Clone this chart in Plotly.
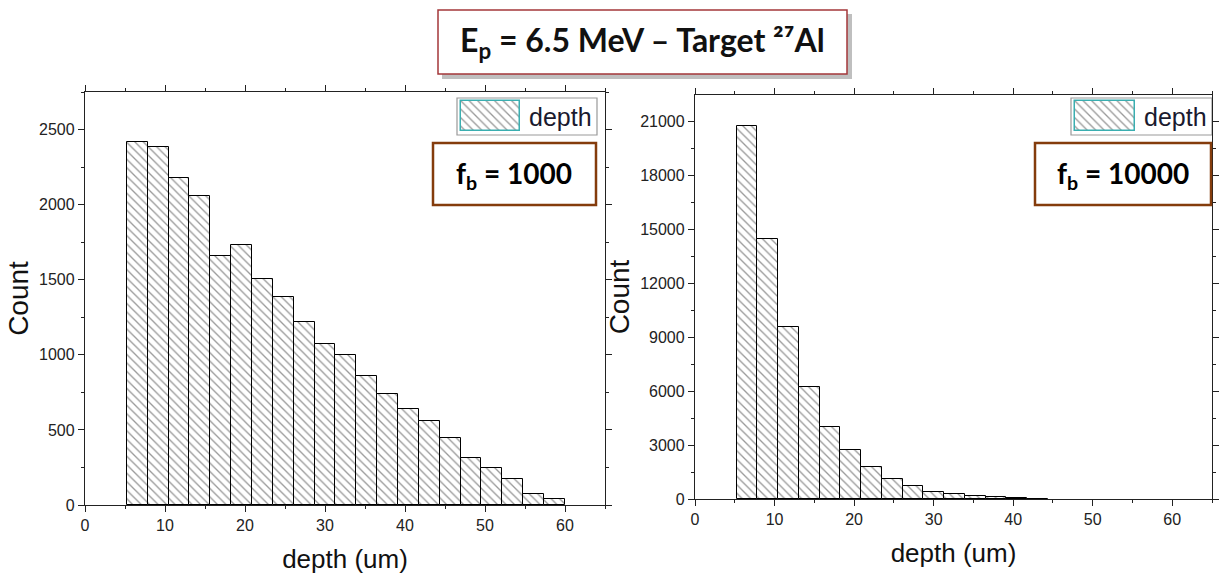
import plotly.graph_objects as go

W, H = 1219, 574

# ---- data ----
bin_start = 5.24
bin_width = 2.607
counts_fb1000 = [2420, 2387, 2180, 2060, 1655, 1733, 1505, 1385, 1220, 1073,
                 1000, 860, 740, 640, 560, 445, 312, 245, 172, 72, 38]
counts_fb10000 = [20700, 14450, 9560, 6230, 4000, 2730, 1780, 1110, 720, 390,
                  280, 165, 85, 40, 20]
x_ticks = [0, 10, 20, 30, 40, 50, 60]
y_ticks_left = [0, 500, 1000, 1500, 2000, 2500]
y_ticks_right = [0, 3000, 6000, 9000, 12000, 15000, 18000, 21000]
title_text = "E<sub>p</sub> = 6.5 MeV – Target ²⁷Al"
fb_labels = ["f<sub>b</sub> = 1000", "f<sub>b</sub> = 10000"]
legend_name = "depth"


def px_x(p):
    return p / W


def px_y(p):
    return 1 - p / H


def centers(n):
    return [bin_start + bin_width * (i + 0.5) for i in range(n)]


pattern = dict(shape="\\", size=6, solidity=0.22, fgcolor="#333", bgcolor="white")

fig = go.Figure()
fig.add_trace(go.Bar(x=centers(len(counts_fb1000)), y=counts_fb1000, width=bin_width,
                     marker=dict(color="white", pattern=pattern, line=dict(color="black", width=1)),
                     xaxis="x", yaxis="y", showlegend=False, name=legend_name))
fig.add_trace(go.Bar(x=centers(len(counts_fb10000)), y=counts_fb10000, width=bin_width,
                     marker=dict(color="white", pattern=pattern, line=dict(color="black", width=1)),
                     xaxis="x2", yaxis="y2", showlegend=False, name=legend_name))
# legend swatches
for ax in ("3", "4"):
    fig.add_trace(go.Bar(x=[0], y=[1], width=1, base=0,
                         marker=dict(color="white", pattern=pattern, line=dict(color="#3aaeb0", width=1.5)),
                         xaxis="x" + ax, yaxis="y" + ax, showlegend=False, hoverinfo="skip"))

tickfont = dict(family="Liberation Sans, Arial", size=16, color="#222")
xtitlefont = dict(family="Liberation Sans, Arial", size=26, color="#111")
ytitlefont = dict(family="Liberation Sans, Arial", size=28, color="#111")

common_x = dict(range=[0, 65], tickvals=x_ticks, ticks="outside", ticklen=6, tickwidth=1,
                tickcolor="#222", showline=True, linecolor="#222", linewidth=1.3, mirror="ticks",
                showgrid=False, zeroline=False, tickfont=tickfont, automargin=False,
                minor=dict(dtick=5, tick0=0, ticks="outside", ticklen=3, tickcolor="#222", showgrid=False),
                title=dict(text="depth (um)", font=xtitlefont, standoff=16))
common_y = dict(ticks="outside", ticklen=6, tickwidth=1, tickcolor="#222", showline=True,
                linecolor="#222", linewidth=1.3, mirror="ticks", showgrid=False, zeroline=False,
                tickfont=tickfont, automargin=False, tickformat="d",
                title=dict(text="Count", font=ytitlefont, standoff=2))

fig.update_layout(
    width=W, height=H, margin=dict(l=0, r=0, t=0, b=0),
    paper_bgcolor="white", plot_bgcolor="white", bargap=0, showlegend=False,
    xaxis=dict(common_x, domain=[px_x(85), px_x(605)], anchor="y"),
    yaxis=dict(common_y, domain=[px_y(505), px_y(92)], range=[0, 2750], tickvals=y_ticks_left,
               minor=dict(dtick=250, tick0=0, ticks="outside", ticklen=3, tickcolor="#222", showgrid=False),
               anchor="x"),
    xaxis2=dict(common_x, domain=[px_x(695), px_x(1212)], anchor="y2"),
    yaxis2=dict(common_y, domain=[px_y(499), px_y(95)], range=[0, 22450], tickvals=y_ticks_right,
                minor=dict(dtick=1500, tick0=0, ticks="outside", ticklen=3, tickcolor="#222", showgrid=False),
                anchor="x2"),
    xaxis3=dict(domain=[px_x(459), px_x(522)], range=[-0.54, 0.54], visible=False, anchor="y3"),
    yaxis3=dict(domain=[px_y(133), px_y(99)], range=[-0.06, 1.06], visible=False, anchor="x3"),
    xaxis4=dict(domain=[px_x(1073), px_x(1137)], range=[-0.54, 0.54], visible=False, anchor="y4"),
    yaxis4=dict(domain=[px_y(133), px_y(99)], range=[-0.06, 1.06], visible=False, anchor="x4"),
)

shapes = []
# title box shadow and box
shapes.append(dict(type="rect", xref="paper", yref="paper", x0=px_x(442), x1=px_x(852),
                   y0=px_y(79), y1=px_y(14), line=dict(width=0), fillcolor="rgba(0,0,0,0.25)", layer="below"))
shapes.append(dict(type="rect", xref="paper", yref="paper", x0=px_x(438), x1=px_x(847),
                   y0=px_y(74), y1=px_y(10), line=dict(color="#a4373a", width=1.5), fillcolor="white"))
# legend boxes
for x0, x1 in [(457, 597), (1071, 1212)]:
    shapes.append(dict(type="rect", xref="paper", yref="paper", x0=px_x(x0), x1=px_x(x1),
                       y0=px_y(135), y1=px_y(98), line=dict(color="#999", width=1.2), fillcolor="white",
                       layer="below"))
# fb boxes
for x0, x1 in [(433, 596), (1035, 1211)]:
    shapes.append(dict(type="rect", xref="paper", yref="paper", x0=px_x(x0), x1=px_x(x1),
                       y0=px_y(205), y1=px_y(143), line=dict(color="#843c0c", width=2.5), fillcolor="white"))
fig.update_layout(shapes=shapes)

annotations = [
    dict(text="<b>" + title_text + "</b>", x=px_x(642), y=px_y(42), xref="paper", yref="paper",
         showarrow=False, font=dict(family="Lato", size=32, color="#111"), xanchor="center", yanchor="middle"),
    dict(text="<b>" + fb_labels[0] + "</b>", x=px_x(514), y=px_y(175), xref="paper", yref="paper",
         showarrow=False, font=dict(family="Lato", size=28, color="#000"), xanchor="center", yanchor="middle"),
    dict(text="<b>" + fb_labels[1] + "</b>", x=px_x(1123), y=px_y(175), xref="paper", yref="paper",
         showarrow=False, font=dict(family="Lato", size=28, color="#000"), xanchor="center", yanchor="middle"),
    dict(text=legend_name, x=px_x(560), y=px_y(117), xref="paper", yref="paper", showarrow=False,
         font=dict(family="Liberation Sans, Arial", size=25, color="#1a1a2e"), xanchor="center", yanchor="middle"),
    dict(text=legend_name, x=px_x(1175), y=px_y(117), xref="paper", yref="paper", showarrow=False,
         font=dict(family="Liberation Sans, Arial", size=25, color="#1a1a2e"), xanchor="center", yanchor="middle"),
]
fig.update_layout(annotations=annotations)

fig.write_html("out.html")
